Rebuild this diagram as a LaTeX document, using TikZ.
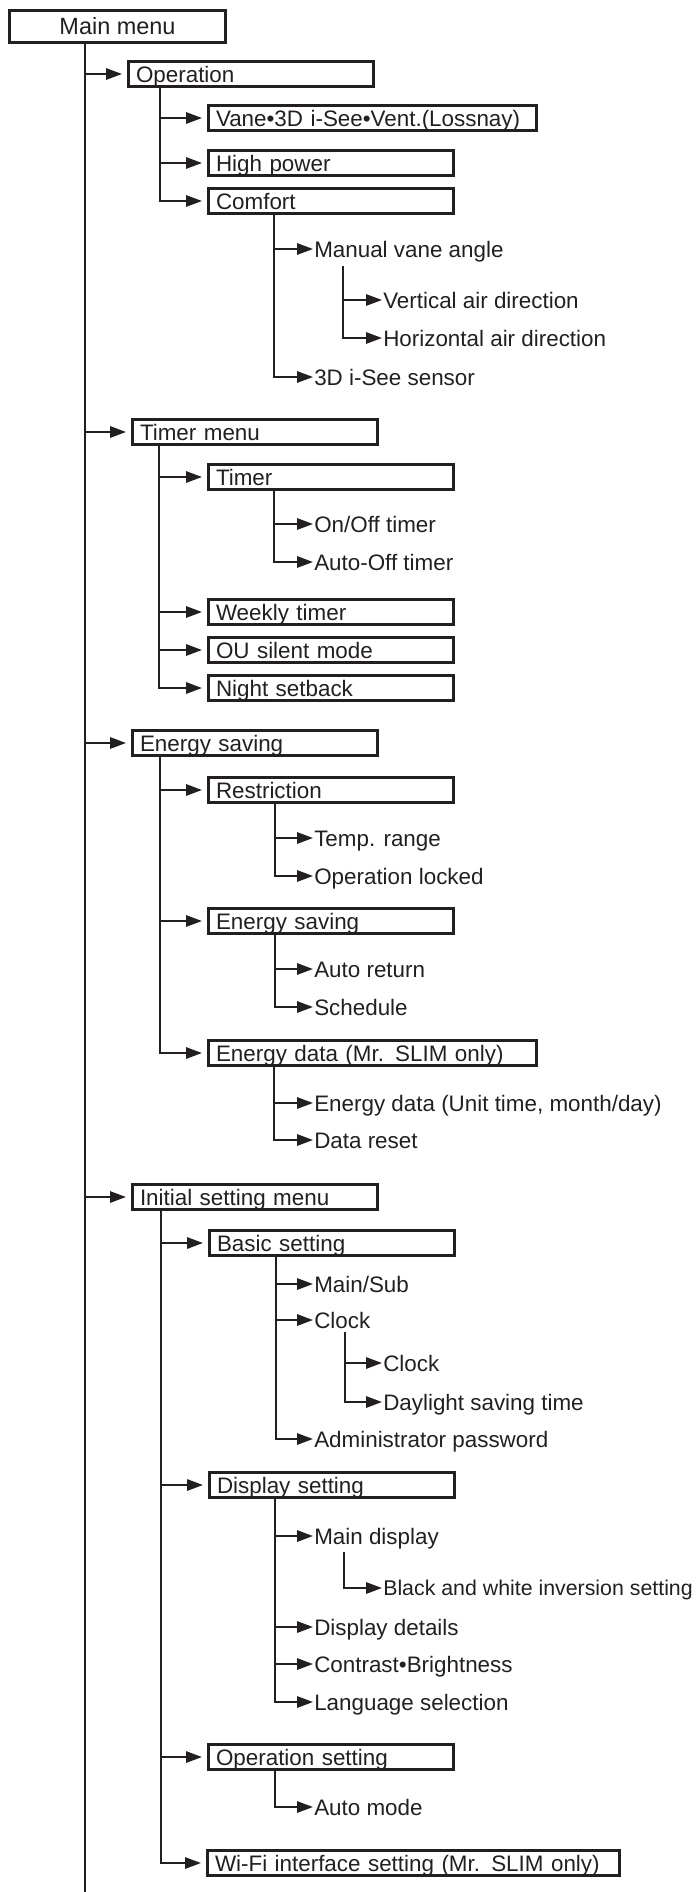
\documentclass[tikz,border=0pt]{standalone}
\usepackage{fontspec}
\setmainfont{Liberation Sans}
\usetikzlibrary{arrows.meta}
\definecolor{ink}{RGB}{35,31,32}
\begin{document}
\begin{tikzpicture}[x=0.75pt,y=-0.75pt,
  every node/.style={font=\fontsize{16.8pt}{19pt}\selectfont, text=ink},
  menubox/.style={draw=ink, line width=1.9pt, anchor=west, minimum height=19.1pt,
    inner xsep=5.8pt, inner ysep=0pt, text width=#1, align=left,
    text height=12pt, text depth=0pt},
  menubox/.default=172.5pt,
  topbox/.style={draw=ink, line width=1.9pt, minimum width=162.35pt, minimum height=24.35pt,
    inner sep=0pt, text height=12.6pt, text depth=0pt, font=\fontsize{17.6pt}{20pt}\selectfont},
  leaf/.style={anchor=west, inner xsep=0.75pt, inner ysep=0pt, text height=12pt, text depth=0pt},
  trunk/.style={draw=ink, line width=1.5pt},
  link/.style={trunk, -{Triangle[length=12pt,width=8.5pt]}},
  boxlink/.style={link, shorten >=3.75pt},
]
\useasboundingbox (0,0) rectangle (698,1892);

% ---------- nodes ----------
\node[topbox] (mm) at (117.5,26.5) {Main menu};

\node[menubox] (op)  at (127,74)   {Operation};
\node[menubox] (tm)  at (131,432)  {Timer menu};
\node[menubox] (es)  at (131,743)  {Energy saving};
\node[menubox] (ism) at (131,1197) {Initial setting menu};

\node[menubox=234.75pt] (vane) at (207,118) {Vane•3D i-See•Vent.(Lossnay)};
\node[menubox] (hp)   at (207,163) {High power};
\node[menubox] (comf) at (207,201) {Comfort};
\node[menubox] (tmr)  at (207,477) {Timer};
\node[menubox] (wk)   at (207,612) {Weekly timer};
\node[menubox] (ou)   at (207,650) {OU silent mode};
\node[menubox] (ns)   at (207,688) {Night setback};
\node[menubox] (rs)   at (207,790) {Restriction};
\node[menubox] (es2)  at (207,921) {Energy saving};
\node[menubox=234.75pt] (ed) at (207,1053) {Energy data (Mr. SLIM only)};
\node[menubox] (bs)   at (208,1243) {Basic setting};
\node[menubox] (ds)   at (208,1485) {Display setting};
\node[menubox] (os)   at (207,1757) {Operation setting};
\node[menubox=297.75pt] (wf) at (206,1863) {Wi-Fi interface setting (Mr. SLIM only)};

\node[leaf] (mva)   at (313,249)  {Manual vane angle};
\node[leaf] (isee)  at (313,377)  {3D i-See sensor};
\node[leaf] (onoff) at (313,524)  {On/Off timer};
\node[leaf] (aoff)  at (313,562)  {Auto-Off timer};
\node[leaf] (trng)  at (313,838)  {Temp. range};
\node[leaf] (olck)  at (313,876)  {Operation locked};
\node[leaf] (aret)  at (313,969)  {Auto return};
\node[leaf] (schd)  at (313,1007) {Schedule};
\node[leaf] (edu)   at (313,1103) {Energy data (Unit time, month/day)};
\node[leaf] (drst)  at (313,1140) {Data reset};
\node[leaf] (msub)  at (313,1284) {Main/Sub};
\node[leaf] (clk)   at (313,1320) {Clock};
\node[leaf] (adm)   at (313,1439) {Administrator password};
\node[leaf] (mdsp)  at (313,1536) {Main display};
\node[leaf] (ddet)  at (313,1627) {Display details};
\node[leaf] (cbr)   at (313,1664) {Contrast•Brightness};
\node[leaf] (lang)  at (313,1702) {Language selection};
\node[leaf] (amod)  at (313,1807) {Auto mode};

\node[leaf] (vad)  at (382,300)  {Vertical air direction};
\node[leaf] (had)  at (382,338)  {Horizontal air direction};
\node[leaf] (clk2) at (382,1363) {Clock};
\node[leaf] (dst)  at (382,1402) {Daylight saving time};
\node[leaf, font=\fontsize{16pt}{19pt}\selectfont, text height=11.5pt] (bw) at (382,1588) {Black and white inversion setting};

% ---------- column coordinates ----------
\coordinate (k1)    at (85,0);
\coordinate (kop)   at (160,0);
\coordinate (ktm)   at (159,0);
\coordinate (kes)   at (160,0);
\coordinate (kism)  at (161,0);
\coordinate (kcomf) at (274,0);
\coordinate (ktmr)  at (274,0);
\coordinate (krs)   at (275,0);
\coordinate (kes2)  at (275,0);
\coordinate (ked)   at (274,0);
\coordinate (kbs)   at (276,0);
\coordinate (kds)   at (275,0);
\coordinate (kos)   at (275,0);
\coordinate (kmva)  at (343,0);
\coordinate (kclk)  at (345,0);
\coordinate (kmd)   at (344,0);
\coordinate (mainend) at (85,1892);
\coordinate (mvab) at ([yshift=-6.75pt]mva.south);
\coordinate (clkb) at ([yshift=-3pt]clk.south);
\coordinate (mdb)  at ([yshift=-6pt]mdsp.south);

% ---------- connectors ----------
\draw[trunk] (mm.south -| k1) -- (mainend);
\foreach \n in {op,tm,es,ism} \draw[boxlink] (mm.south -| k1) |- (\n);

\foreach \n in {vane,hp,comf} \draw[boxlink] (op.south -| kop) |- (\n);
\foreach \n in {mva,isee} \draw[link] (comf.south -| kcomf) |- (\n);
\foreach \n in {vad,had} \draw[link] (mvab -| kmva) |- (\n);

\foreach \n in {tmr,wk,ou,ns} \draw[boxlink] (tm.south -| ktm) |- (\n);
\foreach \n in {onoff,aoff} \draw[link] (tmr.south -| ktmr) |- (\n);

\foreach \n in {rs,es2,ed} \draw[boxlink] (es.south -| kes) |- (\n);
\foreach \n in {trng,olck} \draw[link] (rs.south -| krs) |- (\n);
\foreach \n in {aret,schd} \draw[link] (es2.south -| kes2) |- (\n);
\foreach \n in {edu,drst} \draw[link] (ed.south -| ked) |- (\n);

\foreach \n in {bs,ds,os,wf} \draw[boxlink] (ism.south -| kism) |- (\n);
\foreach \n in {msub,clk,adm} \draw[link] (bs.south -| kbs) |- (\n);
\foreach \n in {clk2,dst} \draw[link] (clkb -| kclk) |- (\n);
\foreach \n in {mdsp,ddet,cbr,lang} \draw[link] (ds.south -| kds) |- (\n);
\draw[link] (mdb -| kmd) |- (bw);
\draw[link] (os.south -| kos) |- (amod);
\end{tikzpicture}
\end{document}
